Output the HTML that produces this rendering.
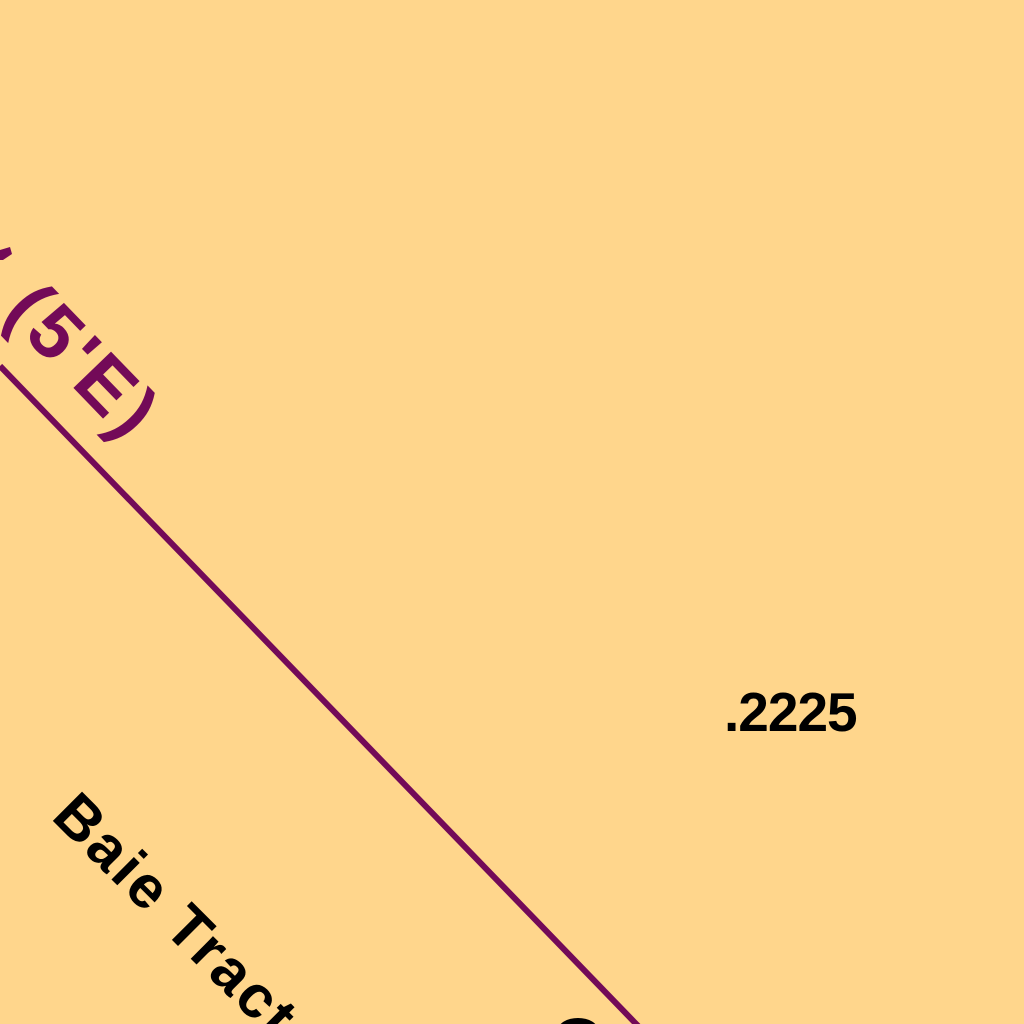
<!DOCTYPE html>
<html><head><meta charset="utf-8"><style>
html,body{margin:0;padding:0;width:1024px;height:1024px;overflow:hidden;background:#FFD68C;}
svg{display:block}
</style></head><body>
<svg width="1024" height="1024" viewBox="0 0 1024 1024">
<rect x="0" y="0" width="1024" height="1024" fill="#FFD68C"/>
<line x1="0" y1="366" x2="642" y2="1030" stroke="#730A58" stroke-width="6"/>
<path d="M0,250 L10,247 L12,254 L3,260 L0,260 Z" fill="#730A58"/>
<text x="0" y="0" transform="translate(2,314) rotate(46)" font-family="Liberation Sans, sans-serif" font-weight="bold" font-size="76" fill="#730A58" letter-spacing="4">(5'E)</text>
<text x="0" y="0" transform="translate(50,818) rotate(45)" font-family="Liberation Sans, sans-serif" font-weight="bold" font-size="60" fill="#000" letter-spacing="3">Baie Tract</text>
<text x="724" y="731" font-family="Liberation Sans, sans-serif" font-weight="bold" font-size="55" fill="#000" letter-spacing="-1">.2225</text>
<ellipse cx="578" cy="1030" rx="20" ry="12" fill="#000"/>
</svg>
</body></html>
